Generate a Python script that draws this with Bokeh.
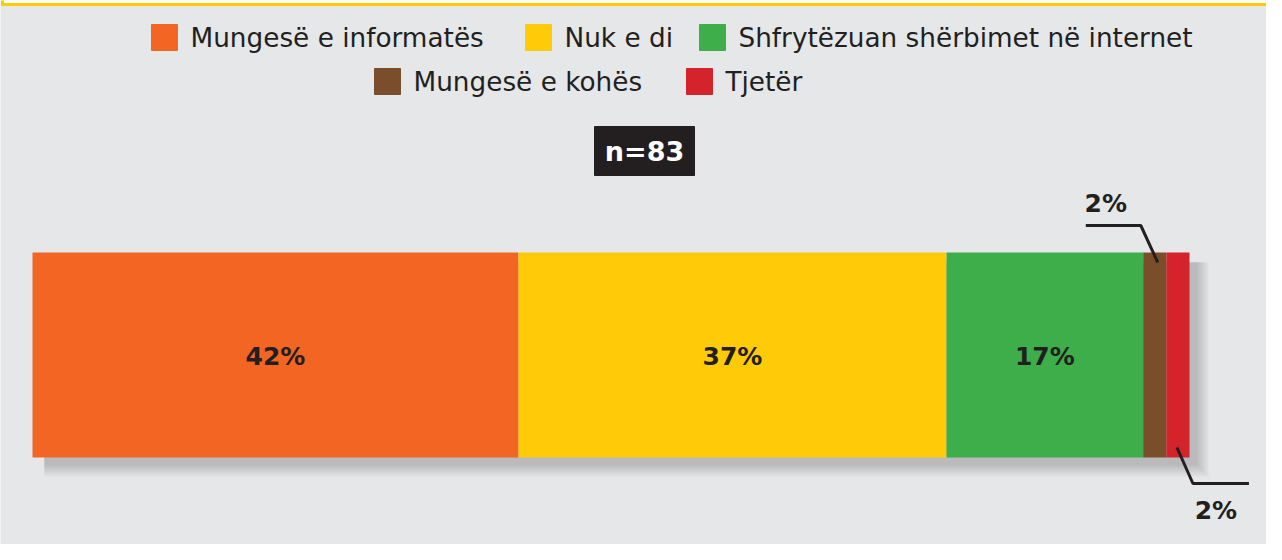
from bokeh.plotting import figure
from bokeh.models import Range1d
from bokeh.core.properties import value
from bokeh.embed import file_html
from bokeh.resources import INLINE

# ---------------- data ----------------
categories = ["Mungesë e informatës", "Nuk e di", "Shfrytëzuan shërbimet në internet",
              "Mungesë e kohës", "Tjetër"]
values = [42, 37, 17, 2, 2]
colors = ["#F26522", "#FFCB08", "#3DAE4A", "#7A4E2B", "#D4232A"]
n_label = "n=83"

# ---------------- layout ----------------
W, H = 1266, 544
BAR_X0 = 32          # px of 0 %
PX_PER_PCT = 11.57   # px per percent
BG = "#E6E7E9"
INK = "#231F20"
FONT = "DejaVu Sans"

x_start = -BAR_X0 / PX_PER_PCT
x_end = x_start + W / PX_PER_PCT

p = figure(width=W, height=H, output_backend="svg", toolbar_location=None,
           x_range=Range1d(x_start, x_end), y_range=Range1d(H, 0),
           x_axis_location=None, y_axis_location=None,
           min_border=0, min_border_left=0, min_border_right=0,
           min_border_top=0, min_border_bottom=0)
p.extra_x_ranges = {"px": Range1d(0, W)}
p.grid.visible = False
p.outline_line_color = None
p.background_fill_color = BG
p.border_fill_color = BG

# top box border remnant
p.quad(left=0, right=W, top=0, bottom=5, color="white", x_range_name="px")
p.quad(left=1, right=W, top=3, bottom=5, color="#FFCB05", x_range_name="px")
p.quad(left=1, right=3, top=0, bottom=5, color="#FFCB05", x_range_name="px")

# ---------------- legend (manual) ----------------
rows = [[0, 1, 2], [3, 4]]
row_y = [37, 81]
row_sq_x = [[151, 525, 699], [374, 686]]
sq = 26
for r, idxs in enumerate(rows):
    for k, i in enumerate(idxs):
        x0 = row_sq_x[r][k]
        p.quad(left=x0, right=x0 + sq, top=row_y[r] - sq / 2, bottom=row_y[r] + sq / 2,
               color=colors[i], x_range_name="px")
        p.text(x=[x0 + sq + 13], y=[row_y[r]], text=[categories[i]],
               text_font=value(FONT), text_font_size="26.3px", text_color=INK,
               text_baseline="middle", text_align="left", x_range_name="px")

# ---------------- n label ----------------
p.quad(left=594, right=694, top=126, bottom=175, color=INK, x_range_name="px")
p.text(x=[644], y=[151], text=[n_label], text_font=value(FONT), text_font_size="27px",
       text_font_style="bold", text_color="white", text_align="center",
       text_baseline="middle", x_range_name="px")

# ---------------- bar ----------------
bar_y = 354.5
bar_h = 205
lefts, rights = [], []
acc = 0
for v in values:
    lefts.append(acc)
    acc += v
    rights.append(acc)

# soft shadow
for k in range(1, 12):
    off = 6
    grow = k * 1.2
    p.quad(left=[(off + 6) / PX_PER_PCT], right=[acc + (off + grow) / PX_PER_PCT],
           top=[bar_y - bar_h / 2 + off + 4], bottom=[bar_y + bar_h / 2 + off + grow],
           color="#5a5c60", alpha=0.03, line_color=None)

p.hbar(y=[bar_y] * len(values), left=lefts, right=rights, height=bar_h,
       color=colors, line_color=None)

# labels inside big segments
big = [i for i, v in enumerate(values) if v >= 5]
p.text(x=[(lefts[i] + rights[i]) / 2 for i in big], y=[bar_y + 1] * len(big),
       text=[f"{values[i]}%" for i in big], text_font=value(FONT),
       text_font_size="25px", text_font_style="bold", text_color=INK,
       text_align="center", text_baseline="middle")

# callouts for small segments
def to_px(pct):
    return BAR_X0 + pct * PX_PER_PCT

i_top, i_bot = 3, 4
cx = to_px((lefts[i_top] + rights[i_top]) / 2) + 3
p.line(x=[cx - 72, cx - 17, cx], y=[225, 225, 262], line_width=3, line_color=INK,
       x_range_name="px")
p.text(x=[cx - 52], y=[203], text=[f"{values[i_top]}%"], text_font=value(FONT),
       text_font_size="25px", text_font_style="bold", text_color=INK,
       text_align="center", text_baseline="middle", x_range_name="px")

cx2 = to_px((lefts[i_bot] + rights[i_bot]) / 2) - 1
p.line(x=[cx2, cx2 + 16, cx2 + 72], y=[447, 483, 483], line_width=3, line_color=INK,
       x_range_name="px")
p.text(x=[cx2 + 39], y=[510], text=[f"{values[i_bot]}%"], text_font=value(FONT),
       text_font_size="25px", text_font_style="bold", text_color=INK,
       text_align="center", text_baseline="middle", x_range_name="px")

open("out.html", "w").write(file_html(p, INLINE))
